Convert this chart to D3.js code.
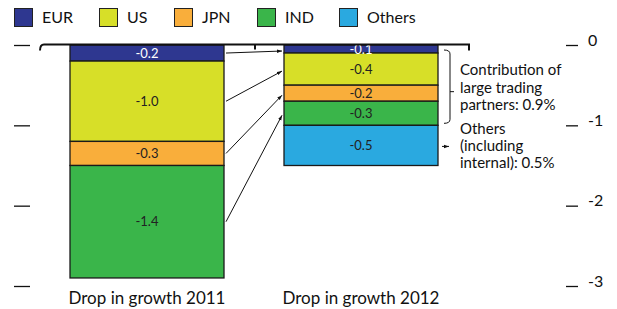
<!DOCTYPE html>
<html><head><meta charset="utf-8">
<script src="https://cdn.jsdelivr.net/npm/d3@7"></script>
<style>
body{margin:0;background:#fff;}
svg{display:block;font-family:Lato,"Open Sans",sans-serif;}
</style></head>
<body>
<svg id="chart" width="617" height="309"></svg>
<script>
const categories = ["Drop in growth 2011", "Drop in growth 2012"];
const seriesNames = ["EUR", "US", "JPN", "IND", "Others"];
const values2011 = [-0.2, -1.0, -0.3, -1.4, 0];
const values2012 = [-0.1, -0.4, -0.2, -0.3, -0.5];
const yTickValues = [0, -1, -2, -3];
const seriesColors = ["#2E3790", "#D7DF28", "#F9AE3B", "#3AB54A", "#2AA9E0"];
const labelColors = ["#ffffff", "#222", "#222", "#222", "#222"];
const annotBracket = ["Contribution of", "large trading", "partners: 0.9%"];
const annotOthers = ["Others", "(including", "internal): 0.5%"];

const fmt1 = v => v.toFixed(1);
const fmt0 = v => String(v);

const svg = d3.select("#chart");
const y = d3.scaleLinear().domain([0, -3]).range([45, 286]);
const x = d3.scaleBand().domain(categories).range([70, 438]).paddingInner(60/214).paddingOuter(0);

svg.append("defs").append("marker").attr("id","ah").attr("viewBox","0 0 10 10")
  .attr("refX",10).attr("refY",5).attr("markerWidth",5).attr("markerHeight",5)
  .attr("orient","auto").append("path").attr("d","M0,1.5L10,5L0,8.5Z").attr("fill","#111");

// legend
const lx = [14, 99, 174, 257, 339];
const leg = svg.append("g");
seriesNames.forEach((s,i)=>{
  leg.append("rect").attr("x",lx[i]+0.5).attr("y",8.5).attr("width",18).attr("height",18)
    .attr("fill",seriesColors[i]).attr("stroke","#222").attr("stroke-width",1);
  leg.append("text").attr("x",lx[i]+28).attr("y",23).attr("font-size",16).attr("fill","#111").text(s);
});

// axes
const yR = d3.axisRight(y).tickValues(yTickValues).tickSize(12).tickPadding(10).tickFormat(fmt0);
const gR = svg.append("g").attr("transform","translate(566,0)").call(yR);
gR.select(".domain").remove();
gR.selectAll("line").attr("stroke","#111").attr("stroke-width",1.3);
gR.selectAll("text").attr("font-size",16).attr("dy","0.02em").attr("fill","#111")
  .attr("font-family","Lato,'Open Sans',sans-serif");

const yL = d3.axisLeft(y).tickValues(yTickValues).tickSize(16).tickFormat("");
const gL = svg.append("g").attr("transform","translate(30,0)").call(yL);
gL.select(".domain").remove();
gL.selectAll("line").attr("stroke","#111").attr("stroke-width",1.3);

// stacked bars
function stackSeg(vals){
  let c = 0; return vals.map((v,i)=>{const s={i, y0:c, y1:c+v, v}; c+=v; return s;}).filter(d=>d.v!==0);
}
const data = [values2011, values2012];
const segs = [];
data.forEach((vals,ci)=>{
  stackSeg(vals).forEach(s=>segs.push(Object.assign({cat:categories[ci]}, s)));
});
svg.append("g").selectAll("rect").data(segs).join("rect")
  .attr("x", d=>x(d.cat)).attr("width", x.bandwidth())
  .attr("y", d=>y(d.y0)).attr("height", d=>y(d.y1)-y(d.y0))
  .attr("fill", d=>seriesColors[d.i]).attr("stroke","#1a1a1a").attr("stroke-width",1.3);
svg.append("g").selectAll("text").data(segs).join("text")
  .attr("x", d=>x(d.cat)+x.bandwidth()/2).attr("y", d=>(y(d.y0)+y(d.y1))/2)
  .attr("dy","0.36em").attr("text-anchor","middle").attr("font-size",13)
  .attr("fill", d=>labelColors[d.i]).text(d=>fmt1(d.v));

// baseline
const by = y(0) - 0.5;
svg.append("path").attr("d",`M40,${by+6}Q40,${by} 44,${by}L469,${by}L469,${by+6}M255,${by}L255,${by+5}`)
  .attr("fill","none").attr("stroke","#111").attr("stroke-width",2);

// arrows between bars
const s11 = stackSeg(values2011), s12 = stackSeg(values2012);
const x0 = x(categories[0]) + x.bandwidth() + 2, x1 = x(categories[1]) - 2;
svg.append("g").selectAll("line").data(s11).join("line")
  .attr("x1", x0).attr("y1", d=>(y(d.y0)+y(d.y1))/2)
  .attr("x2", x1).attr("y2", d=>{const t=s12.find(e=>e.i===d.i); return (y(t.y0)+y(t.y1))/2+2;})
  .attr("stroke","#111").attr("stroke-width",1).attr("marker-end","url(#ah)");

// bracket
const bx = x(categories[1]) + x.bandwidth() + 12;
const bTop = y(0)+5, bBot = y(-1.0)-2, bMid = (bTop+bBot)/2 + 5;
svg.append("path").attr("d",`M${bx-6},${bTop}Q${bx},${bTop} ${bx},${bTop+4}L${bx},${bBot-4}Q${bx},${bBot} ${bx-6},${bBot}M${bx},${bMid}L${bx+4},${bMid}`)
  .attr("fill","none").attr("stroke","#111").attr("stroke-width",1);
const oy = (y(-1.0)+y(-1.5))/2 + 1;
svg.append("line").attr("x1",bx-8).attr("y1",oy).attr("x2",bx-1).attr("y2",oy)
  .attr("stroke","#111").attr("stroke-width",1).attr("marker-end","url(#ah)");

svg.append("g").selectAll("text").data(annotBracket).join("text")
  .attr("x",460).attr("y",(d,i)=>75+i*17.5).attr("font-size",15).attr("fill","#111").text(d=>d);
svg.append("g").selectAll("text").data(annotOthers).join("text")
  .attr("x",460).attr("y",(d,i)=>134+i*17).attr("font-size",15).attr("fill","#111").text(d=>d);

// category labels
svg.append("g").selectAll("text").data(categories).join("text")
  .attr("x", d=>x(d)+x.bandwidth()/2).attr("y",304).attr("text-anchor","middle")
  .attr("font-size",17).attr("fill","#111").text(d=>d);
</script>
</body></html>
